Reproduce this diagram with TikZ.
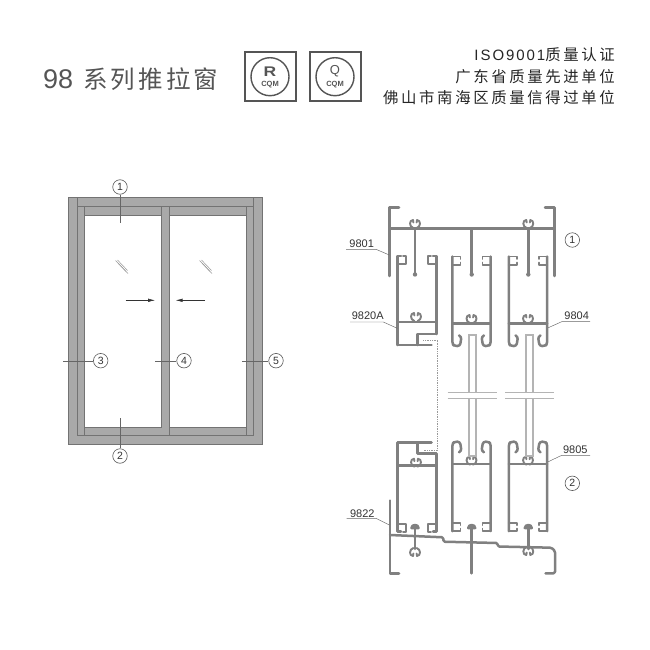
\documentclass[tikz,border=0pt]{standalone}
\usepackage{fontspec}
\setmainfont{Liberation Sans}
\newfontfamily\cjkT[LetterSpace=13]{Noto Sans CJK SC}
\newfontfamily\cjkR[LetterSpace=17]{Noto Sans CJK SC}
\newfontfamily\latR[LetterSpace=13]{Liberation Sans}
\usetikzlibrary{arrows.meta}
\definecolor{prof}{HTML}{808080}
\definecolor{fr}{HTML}{A9A9A9}
\definecolor{ink}{HTML}{555555}
\definecolor{glasscol}{HTML}{B4B4B4}
\tikzset{
  x=1pt,y=-1pt,
  pr/.style={draw=prof,line width=2.5pt,line join=round,line cap=round},
  prt/.style={draw=prof,line width=1.9pt,line join=round,line cap=round},
  glassl/.style={draw=glasscol,line width=1.7pt},
  breakl/.style={draw=glasscol,line width=1.2pt},
  callout/.style={circle,draw=black!65,line width=.6pt,fill=white,minimum size=14.5pt,inner sep=0pt,font=\fontsize{10.5}{12}\selectfont,text=black!80},
  leader/.style={draw=black!60,line width=.4pt},
  partlabel/.style={inner sep=0pt,font=\fontsize{11}{13}\selectfont,text=black!80},
  partline/.style={draw=black!60,line width=.45pt},
  arr/.style={draw=black!80,line width=.45pt,-{Latex[length=7pt,width=3.5pt]}},
  fm/.style={fill=fr,draw=black!55,line width=.6pt},
  gm/.style={draw=black!40,line width=.5pt},
  logobox/.style={draw=ink,line width=2pt},
  logoc/.style={draw=ink,line width=1.4pt},
  clipw/.pic={
    \draw[prt] (-1.6,0) .. controls (-6,-1) and (-6,-8) .. (-2,-8) -- (-1.6,-5.5);
    \draw[prt] (1.6,0) .. controls (6,-1) and (6,-8) .. (2,-8) -- (1.6,-5.5);
  },
  sashu/.pic={
    \draw[pr] (-19.4,89) -- (-19.4,0) -- (-16,0);
    \draw[pr] (19.4,78) -- (19.4,0) -- (16,0);
    \draw[prt] (-19.4,8) -- (-11,8) -- (-11,0) -- (-14,0);
    \draw[prt] (19.4,8) -- (11,8) -- (11,0) -- (14,0);
    \draw[pr] (-19.4,66) -- (19.4,66);
    \draw[pr] (19.4,78) -- (0.3,78) -- (0.3,89);
    \draw[pr] (-19.4,89) -- (14.5,89);
    \pic at (-1,65) {clipw};
  },
  sashm/.pic={
    \draw[pr,rounded corners=2.5pt] (-19.2,0.5) -- (-19.2,88) -- (-17,90) -- (-11.5,90) -- (-10,80.5) -- (-12.5,79.5);
    \draw[pr,rounded corners=2.5pt] (19.2,0.5) -- (19.2,88) -- (17,90) -- (11.5,90) -- (10,80.5) -- (12.5,79.5);
    \draw[prt] (-19.2,0.5) -- (-11,0.5) -- (-11,3);
    \draw[prt] (19.2,0.5) -- (11,0.5) -- (11,3);
    \draw[prt] (-19.2,9) -- (-11,9) -- (-11,6.5);
    \draw[prt] (19.2,9) -- (11,9) -- (11,6.5);
    \draw[pr] (-19.2,67.5) -- (19.2,67.5);
    \pic at (0,67) {clipw};
  },
  stemhead/.pic={
    \draw[pr,fill=prof] (-3.5,3) .. controls (-3.5,-1) and (3.5,-1) .. (3.5,3) -- cycle;
  }
}
\begin{document}
\begin{tikzpicture}
\useasboundingbox (0,0) rectangle (650,650);
\fill[white] (0,0) rectangle (650,650);

% ---- heading
\node[anchor=west,inner sep=0pt,text=ink,font=\fontsize{27}{30}\selectfont] (ttl) at (43,79) {98};
\node[anchor=west,inner sep=0pt,text=ink] (ttlc) at (83,79) {\fontsize{24.5}{28}\selectfont\cjkT 系列推拉窗};

\draw[logobox] (245,52) rectangle (295.5,101.5);
\node[circle,logoc,minimum size=38pt,inner sep=0pt] (l1) at (270,76.7) {};
\node[inner sep=0pt,text=ink,font=\bfseries\fontsize{14}{14}\selectfont,xscale=1.25] (l1r) at (270,71.5) {R};
\node[inner sep=0pt,text=ink,font=\bfseries\fontsize{7.5}{8}\selectfont] (l1t) at (270,85) {CQM};
\draw[logobox] (310,52) rectangle (360.5,101.5);
\node[circle,logoc,minimum size=38pt,inner sep=0pt] (l2) at (335,76.7) {};
\node[inner sep=0pt,text=ink,font=\fontsize{13}{14}\selectfont] (l2q) at (335,71.5) {Q};
\node[inner sep=0pt,text=ink,font=\bfseries\fontsize{7.5}{8}\selectfont] (l2t) at (335,85) {CQM};

\node[anchor=east,inner sep=0pt,text=black!85] (r1) at (615,55) {\fontsize{15}{16}\selectfont\latR ISO9001\cjkR\fontsize{15.4}{16}\selectfont 质量认证};
\node[anchor=east,inner sep=0pt,text=black!85] (r2) at (615,77) {\fontsize{15.4}{16}\selectfont\cjkR 广东省质量先进单位};
\node[anchor=east,inner sep=0pt,text=black!85] (r3) at (615,98) {\fontsize{15.4}{16}\selectfont\cjkR 佛山市南海区质量信得过单位};

% ---- elevation
\draw[fm] (68.3,197.7) rectangle (262.7,444);
\fill[white] (77.7,206.7) rectangle (253.7,435);
\draw[fm] (77.7,206.7) rectangle (84.3,435);
\draw[fm] (246.7,206.7) rectangle (253.7,435);
\draw[fm] (84.3,206.7) rectangle (161,215);
\draw[fm] (169.7,206.7) rectangle (246.7,215);
\draw[fm] (84.3,427.3) rectangle (161,435);
\draw[fm] (169.7,427.3) rectangle (246.7,435);
\draw[fm] (161,206.7) rectangle (169.7,435);
\draw[black!55,line width=.6pt] (77.7,197.7) -- (77.7,206.7) (253.7,197.7) -- (253.7,206.7);
\fill[fr] (161.4,427.8) rectangle (169.2,434.6);

\foreach \gx in {115,199}{
  \draw[gm] (\gx+.5,260.5) -- (\gx+11,271.5);
  \draw[gm] (\gx+2.5,260) -- (\gx+12.5,270.5);
  \draw[gm] (\gx+3,263) -- (\gx+13,273.5);
}

\coordinate (arl) at (125.7,300.3);
\coordinate (arlh) at (155,300.3);
\coordinate (arr) at (205,300.3);
\coordinate (arrh) at (175.7,300.3);
\draw[arr] (arl) -- (arlh);
\draw[arr] (arr) -- (arrh);

\node[callout] (c1) at (120,187) {1};
\node[callout] (c2) at (120,456) {2};
\node[callout] (c3) at (100.7,360.7) {3};
\node[callout] (c4) at (184,360.7) {4};
\node[callout] (c5) at (276,360.7) {5};
\coordinate (e1) at (120,223.3);
\coordinate (e2) at (120,418.3);
\coordinate (e3) at (63.3,360.7);
\coordinate (e4) at (155,360.7);
\coordinate (e5) at (241.7,360.7);
\draw[leader] (c1) -- (e1);
\draw[leader] (c2) -- (e2);
\draw[leader] (c3) -- (e3);
\draw[leader] (c4) -- (e4);
\draw[leader] (c5) -- (e5);

% ---- section: top frame
\draw[pr] (399,207.3) -- (389.3,207.3) -- (389.3,276);
\draw[pr] (545,207.3) -- (554.3,207.3) -- (554.3,276);
\draw[pr] (389.3,228.7) -- (554.3,228.7);
\foreach \sx in {415,471.7,528.3}{
  \draw[pr] (\sx,228.7) -- (\sx,274);
  \fill[prof] (\sx,274.5) circle (2.2pt);
}
\pic at (415,228) {clipw};
\pic at (528.3,228) {clipw};

% ---- sashes
\pic at (417,256) {sashu};
\pic at (471.5,256) {sashm};
\pic at (528,256) {sashm};
\pic[yscale=-1] at (417,531.7) {sashu};
\pic[yscale=-1] at (471.5,531.7) {sashm};
\pic[yscale=-1] at (528,531.7) {sashm};

% ---- glass
\foreach \gx in {469,526.2}{
  \draw[glassl] (\gx,392.7) -- (\gx,335) -- (\gx+7,335) -- (\gx+7,392.7);
  \draw[glassl] (\gx,398.7) -- (\gx,456) -- (\gx+7,456) -- (\gx+7,398.7);
}
\draw[breakl] (447.7,392.7) -- (497.3,392.7) (447.7,398.7) -- (497.3,398.7);
\draw[breakl] (505.3,392.7) -- (554.3,392.7) (505.3,398.7) -- (554.3,398.7);

% ---- dotted seal line
\draw[black!40,line width=.7pt,densely dotted] (423.3,340) -- (437.7,340) -- (437.7,450) -- (423.3,450);

% ---- section: bottom frame
\draw[pr] (390,500.5) -- (390,573.3) -- (399,573.3);
\draw[pr,rounded corners=1.5pt] (390,535) -- (443.3,537.3) -- (443.3,541.7) -- (497.7,543) -- (497.7,546.5) -- (551.5,547.7) -- (555,551) -- (555,573.3) -- (545.5,573.3);
\draw[pr] (415,526) -- (415,549);
\draw[pr] (471.7,526) -- (471.7,573.3);
\draw[pr] (528.3,526) -- (528.3,549);
\pic at (415,525) {stemhead};
\pic at (471.7,525) {stemhead};
\pic at (528.3,525) {stemhead};
\pic[yscale=-1] at (415,548) {clipw};
\pic[yscale=-1] at (528.3,547) {clipw};

% ---- part labels
\node[partlabel] (p9801) at (361.7,243.5) {9801};
\coordinate (q9801a) at (346,249.3);
\coordinate (q9801b) at (376,249.3);
\coordinate (q9801c) at (389.3,255);
\draw[partline] (q9801a) -- (q9801b) -- (q9801c);
\node[partlabel] (p9820) at (367.7,316) {9820A};
\coordinate (q9820a) at (350,322);
\coordinate (q9820b) at (383.3,322);
\coordinate (q9820c) at (397.3,328.3);
\draw[partline] (q9820a) -- (q9820b) -- (q9820c);
\node[partlabel] (p9804) at (576.7,316) {9804};
\coordinate (q9804a) at (590,321.7);
\coordinate (q9804b) at (561.7,321.7);
\coordinate (q9804c) at (548.3,327.7);
\draw[partline] (q9804a) -- (q9804b) -- (q9804c);
\node[partlabel] (p9805) at (575.3,450) {9805};
\coordinate (q9805a) at (590,455.3);
\coordinate (q9805b) at (561.7,455.3);
\coordinate (q9805c) at (548.3,461.7);
\draw[partline] (q9805a) -- (q9805b) -- (q9805c);
\node[partlabel] (p9822) at (362.3,513.5) {9822};
\coordinate (q9822a) at (346.7,518.3);
\coordinate (q9822b) at (376,518.3);
\coordinate (q9822c) at (389.3,525);
\draw[partline] (q9822a) -- (q9822b) -- (q9822c);

\node[callout] (s1) at (572.3,240) {1};
\node[callout] (s2) at (572.3,483.3) {2};
\end{tikzpicture}
\end{document}
